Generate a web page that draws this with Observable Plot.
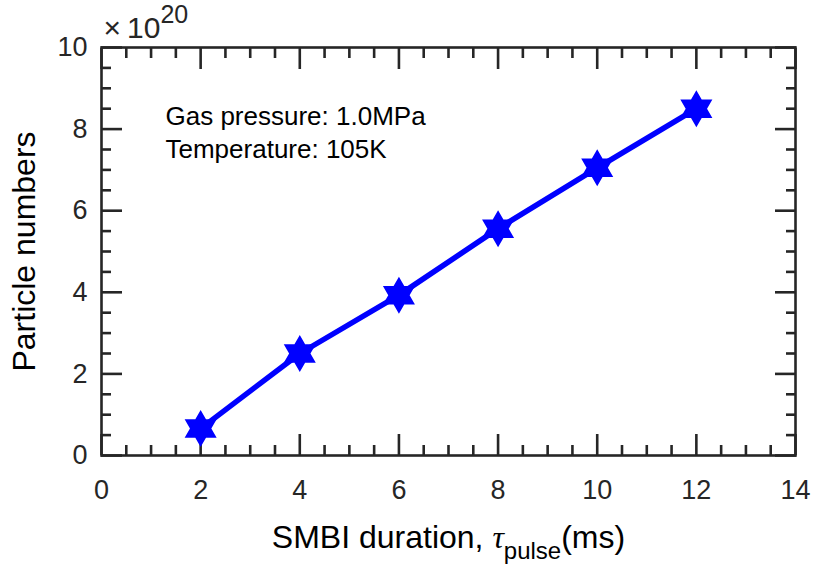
<!DOCTYPE html>
<html><head><meta charset="utf-8">
<script src="https://cdn.jsdelivr.net/npm/d3@7"></script>
<script src="https://cdn.jsdelivr.net/npm/@observablehq/plot@0.6"></script>
<style>body{margin:0;background:#fff} svg{display:block}</style>
</head><body><div id="chart"></div>
<script>
// ---- data ----
const durations = [2, 4, 6, 8, 10, 12];
const particles = [0.66, 2.5, 3.93, 5.56, 7.05, 8.5]; // ×10^20
const xTicks = [0, 2, 4, 6, 8, 10, 12, 14];
const yTicks = [0, 2, 4, 6, 8, 10];
const xMinor = [0.5, 1, 1.5, 2.5, 3, 3.5, 4.5, 5, 5.5, 6.5, 7, 7.5, 8.5, 9, 9.5, 10.5, 11, 11.5, 12.5, 13, 13.5];
const yMinor = [0.5, 1, 1.5, 2.5, 3, 3.5, 4.5, 5, 5.5, 6.5, 7, 7.5, 8.5, 9, 9.5];
const annotationLines = ["Gas pressure: 1.0MPa", "Temperature: 105K"];
const xTitle = "SMBI duration,";
const xTitleSymbol = "τ";
const xTitleSub = "pulse";
const xTitleUnit = "(ms)";
const yTitle = "Particle numbers";
const exponentSign = "×";
const exponentBase = "10";
const exponentPower = "20";

const data = durations.map((d, i) => ({duration: d, particles: particles[i]}));

const hexagram = {
  draw(ctx, size) {
    const R = Math.sqrt(size / Math.PI);
    const r = R / Math.sqrt(3);
    for (let i = 0; i < 12; i++) {
      const a = -Math.PI / 2 + i * Math.PI / 6;
      const rad = i % 2 === 0 ? R : r;
      const x = rad * Math.cos(a), y = rad * Math.sin(a);
      if (i) ctx.lineTo(x, y); else ctx.moveTo(x, y);
    }
    ctx.closePath();
  }
};

const ink = "#262626";
const tickW = 2.6;

const chart = Plot.plot({
  width: 814,
  height: 570,
  marginLeft: 101,
  marginRight: 19,
  marginTop: 47,
  marginBottom: 115,
  x: {domain: [0, 14], label: null},
  y: {domain: [0, 10], label: null},
  style: {fontFamily: "'Liberation Sans', Arial, sans-serif", color: ink, background: "white"},
  marks: [
    // tick labels
    Plot.axisX(xTicks, {tickSize: 0, tickPadding: 24, fontSize: 27, label: null}),
    Plot.axisY(yTicks, {tickSize: 0, tickPadding: 14, fontSize: 27, label: null}),
    // inward major ticks on all four sides
    Plot.axisX(xTicks, {anchor: "bottom", tickSize: -21, tickFormat: () => "", strokeWidth: tickW, label: null}),
    Plot.axisX(xTicks, {anchor: "top", tickSize: -21, tickFormat: () => "", strokeWidth: tickW, label: null}),
    Plot.axisY(yTicks, {anchor: "left", tickSize: -21, tickFormat: () => "", strokeWidth: tickW, label: null}),
    Plot.axisY(yTicks, {anchor: "right", tickSize: -21, tickFormat: () => "", strokeWidth: tickW, label: null}),
    // inward minor ticks
    Plot.axisX(xMinor, {anchor: "bottom", tickSize: -10, tickFormat: () => "", strokeWidth: tickW, label: null}),
    Plot.axisX(xMinor, {anchor: "top", tickSize: -10, tickFormat: () => "", strokeWidth: tickW, label: null}),
    Plot.axisY(yMinor, {anchor: "left", tickSize: -10, tickFormat: () => "", strokeWidth: tickW, label: null}),
    Plot.axisY(yMinor, {anchor: "right", tickSize: -10, tickFormat: () => "", strokeWidth: tickW, label: null}),
    Plot.frame({stroke: ink, strokeWidth: tickW}),
    // annotation
    Plot.text([annotationLines.join("\n")], {
      frameAnchor: "top-left", dx: 64, dy: 54, textAnchor: "start", lineAnchor: "top",
      fontSize: 26, lineHeight: 1.27, fill: "black"
    }),
    // axis titles
    Plot.text([yTitle], {frameAnchor: "left", dx: -77, rotate: -90, textAnchor: "middle", lineAnchor: "middle", fontSize: 32, fill: "black"}),
    Plot.text([xTitle], {frameAnchor: "bottom", dy: 82, textAnchor: "middle", lineAnchor: "middle", fontSize: 32, fill: "black"}),
    Plot.text([exponentSign], {frameAnchor: "top-left", dx: 2, dy: -19, textAnchor: "start", lineAnchor: "middle", fontSize: 30, fill: ink}),
    // data
    Plot.line(data, {x: "duration", y: "particles", stroke: "#0000ff", strokeWidth: 5.5}),
    Plot.dot(data, {x: "duration", y: "particles", symbol: hexagram, r: 18.5, fill: "#0000ff", stroke: "none"})
  ]
});

document.getElementById("chart").append(chart);

// rich text (italic tau with subscript, superscript exponent)
const findText = (s) => d3.select(chart).selectAll("text").filter(function () { return this.textContent === s; });
const xt = findText(xTitle);
xt.append("tspan").text(" ");
xt.append("tspan").attr("font-family", "'Liberation Serif', 'DejaVu Serif', serif").attr("font-style", "italic").text(xTitleSymbol);
xt.append("tspan").attr("font-size", 24).attr("dy", 11).text(xTitleSub);
xt.append("tspan").attr("dy", -11).text(xTitleUnit);

const ex = findText(exponentSign);
ex.style("font-size", "30px");
ex.append("tspan").attr("dx", 6).style("font-size", "30px").text(exponentBase);
ex.append("tspan").style("font-size", "25px").attr("dy", -15).text(exponentPower);
</script>
</body></html>
